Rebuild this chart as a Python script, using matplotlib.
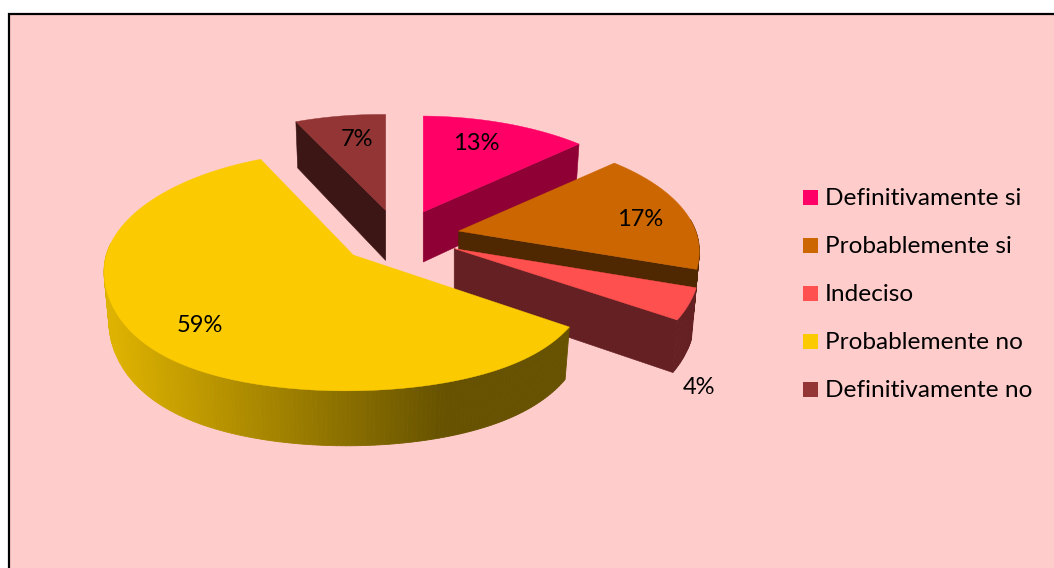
"""
Intencion de respuesta - exploded 3D style pie chart
"""

import numpy as np
import matplotlib
matplotlib.use("Agg")
import matplotlib.pyplot as plt
from matplotlib.patches import Polygon, Rectangle
from matplotlib.colors import to_rgb

categories = ["Definitivamente si", "Probablemente si", "Indeciso",
              "Probablemente no", "Definitivamente no"]
values = [13, 17, 4, 59, 7]

top_colors = ["#FF0066", "#CC6600", "#FF5050", "#FBCA00", "#933535"]
side_colors = ["#8F0035", "#4F2700", "#642023", "#665200", "#3C1615"]

# percent label centres, in pixels
label_x = [476, 640, 699, 200, 357]
label_y = [144, 219, 387, 326, 140]

# projection of the pie plane, in pixels
CX, CY = 399, 237
RX, RY = 242, 112.5
PERSP = 0.172
XSKEW = 0.02
EXPLODE = 0.252
DEPTH = 50
DEPTH_PERSP = 0.09
BOTTOM_SHRINK = 0.98

# horizontal stretch per slice, the small one sits slightly wider
slice_stretch = [1.0, 1.0, 1.024, 1.0, 1.0]

# slices are stacked back to front
draw_order = [4, 0, 1, 2, 3]

plt.rcParams["font.family"] = ["Lato", "DejaVu Sans"]


def wedge_angles(vals):
    total = sum(vals)
    edges = np.cumsum([0] + list(vals)) / total * 2 * np.pi
    return edges[:-1], edges[1:]


def apex_of(mid):
    return (CX + RX * EXPLODE * np.sin(mid), CY - RY * EXPLODE * 0.96 * np.cos(mid))


def plane_scale(theta, mid, stretch):
    # slices pushed towards the viewer flatten less at the back
    near = max(0.0, -np.cos(mid))
    k = PERSP - 0.058 * near
    ry = RY + 7.8 * near
    v = np.cos(theta)
    s = 1 / (1 + k * v + XSKEW * np.sin(theta))
    # front quarter bulges a little
    bulge = 1 + 0.08 * np.sin(np.pi * np.clip(-v, 0, 1))
    return RX * s * stretch, ry * s * bulge


def top_point(apex, theta, mid, stretch):
    sx, sy = plane_scale(theta, mid, stretch)
    return apex[0] + sx * np.sin(theta), apex[1] - sy * np.cos(theta)


def bottom_point(apex, theta, mid, stretch):
    sx, sy = plane_scale(theta, mid, stretch)
    h = DEPTH / (1 + DEPTH_PERSP * np.cos(theta))
    return (apex[0] + sx * np.sin(theta) * BOTTOM_SHRINK,
            apex[1] - sy * np.cos(theta) + h)


def yellow_shade(x):
    # side of the large slice darkens from left to right
    t = np.clip((x - 112) / (445 - 112), 0, 1)
    light = np.array(to_rgb("#DEB200"))
    dark = np.array(to_rgb("#665200"))
    return tuple(light + (dark - light) * t)


def draw_slice(ax, i, start, end):
    mid = (start + end) / 2
    apex = apex_of(mid)
    low_apex = (apex[0], apex[1] + DEPTH)
    side = side_colors[i]
    st = slice_stretch[i]

    # outer rim, as thin strips so the shading can change along it
    thetas = np.linspace(start, end, max(int(np.degrees(end - start)), 2) + 1)
    for t0, t1 in zip(thetas[:-1], thetas[1:]):
        if np.cos((t0 + t1) / 2) > 0.1:
            continue
        p0, p1 = top_point(apex, t0, mid, st), top_point(apex, t1, mid, st)
        q0, q1 = bottom_point(apex, t0, mid, st), bottom_point(apex, t1, mid, st)
        color = yellow_shade((p0[0] + p1[0]) / 2) if i == 3 else side
        ax.add_patch(Polygon([p0, p1, q1, q0], closed=True, facecolor=color,
                             edgecolor=color, linewidth=0.6))

    # cut faces that turn towards the viewer
    for theta, visible in ((start, np.sin(start) < -1e-6), (end, np.sin(end) > 1e-6)):
        if visible:
            ax.add_patch(Polygon([apex, top_point(apex, theta, mid, st),
                                  bottom_point(apex, theta, mid, st), low_apex],
                                 closed=True, facecolor=side, edgecolor=side,
                                 linewidth=0.4))

    arc = np.linspace(start, end, 200)
    xs, ys = top_point(apex, arc, mid, st)
    pts = np.column_stack([np.r_[apex[0], xs], np.r_[apex[1], ys]])
    ax.add_patch(Polygon(pts, closed=True, facecolor=top_colors[i],
                         edgecolor=top_colors[i], linewidth=0.3))


fig = plt.figure(figsize=(10.54, 5.68), dpi=100, facecolor="white")
ax = fig.add_axes([0, 0, 1, 1])
ax.set_xlim(0, 1054)
ax.set_ylim(568, 0)
ax.axis("off")

# chart area, runs off the right and bottom of the canvas
ax.add_patch(Rectangle((9, 13.5), 1060, 570, facecolor="#FFCCCC",
                       edgecolor="black", linewidth=1.6))

starts, ends = wedge_angles(values)
for i in draw_order:
    draw_slice(ax, i, starts[i], ends[i])

for i, v in enumerate(values):
    ax.text(label_x[i], label_y[i], f"{v}%", fontsize=17, color="black",
            ha="center", va="center", zorder=5)

for i, name in enumerate(categories):
    y = 197.5 + 48 * i
    ax.add_patch(Rectangle((803, y - 7.5), 15, 15, facecolor=top_colors[i],
                           edgecolor="none", zorder=5))
    ax.text(825, y + 1, name, fontsize=17.6, color="black", ha="left",
            va="center", zorder=5)

fig.savefig("out.png", dpi=100)
